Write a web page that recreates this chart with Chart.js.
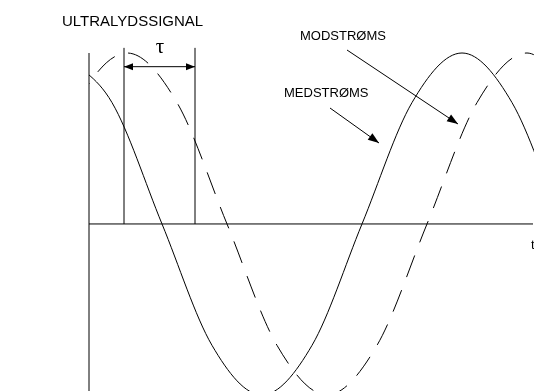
<!DOCTYPE html>
<html>
<head>
<meta charset="utf-8">
<script src="https://cdn.jsdelivr.net/npm/chart.js@4/dist/chart.umd.min.js"></script>
<style>
  html, body { margin: 0; padding: 0; background: #fff; }
  #wrap { width: 534px; height: 391px; }
</style>
</head>
<body>
<div id="wrap"><canvas id="c" width="534" height="391"></canvas></div>
<script>
// time axis (arbitrary units), amplitude normalised to 1
const medTimes = [-2.7, 2.3, 7.3, 12.3, 17.3, 22.3, 27.3, 32.3, 37.3, 42.3, 47.3];
const medValues = [1, 0.71, 0, -0.71, -1, -0.71, 0, 0.71, 1, 0.71, 0];
const modTimes = [-6.2, -1.2, 3.8, 8.8, 13.8, 18.8, 23.8, 28.8, 33.8, 38.8, 43.8, 48.8];
const modValues = [0, 0.71, 1, 0.71, 0, -0.71, -1, -0.71, 0, 0.71, 1, 0.71];
const tauMarks = [3.5, 10.6];   // the two vertical lines bracketing tau
const tauTop = 1.03;
const tauArrowLevel = 0.92;

const pts = (xs, ys) => xs.map((x, i) => ({ x: x, y: ys[i] }));

// ---------------------------------------------------------------------------

function arrowHead(ctx, x1, y1, x2, y2, len, half) {
  const a = Math.atan2(y2 - y1, x2 - x1);
  ctx.beginPath();
  ctx.moveTo(x2, y2);
  ctx.lineTo(x2 - len * Math.cos(a) + half * Math.sin(a), y2 - len * Math.sin(a) - half * Math.cos(a));
  ctx.lineTo(x2 - len * Math.cos(a) - half * Math.sin(a), y2 - len * Math.sin(a) + half * Math.cos(a));
  ctx.closePath();
  ctx.fill();
}

function arrow(ctx, x1, y1, x2, y2) {
  ctx.beginPath();
  ctx.moveTo(x1, y1);
  ctx.lineTo(x2, y2);
  ctx.stroke();
  arrowHead(ctx, x1, y1, x2, y2, 11, 4);
}

const sketch = {
  id: 'sketch',
  afterDraw(chart) {
    const ctx = chart.ctx;
    const xs = chart.scales.x, ys = chart.scales.y;
    const x0 = xs.getPixelForValue(0);
    const y0 = ys.getPixelForValue(0);
    ctx.save();
    ctx.strokeStyle = '#000';
    ctx.fillStyle = '#000';
    ctx.lineWidth = 1;
    ctx.setLineDash([]);

    // axes
    ctx.beginPath();
    ctx.moveTo(x0, 53);
    ctx.lineTo(x0, 391);
    ctx.moveTo(x0, y0);
    ctx.lineTo(533, y0);
    ctx.stroke();

    // tau bracket
    const ta = xs.getPixelForValue(tauMarks[0]);
    const tb = xs.getPixelForValue(tauMarks[1]);
    const tTop = ys.getPixelForValue(tauTop);
    const tY = ys.getPixelForValue(tauArrowLevel);
    ctx.beginPath();
    ctx.moveTo(ta, tTop); ctx.lineTo(ta, y0);
    ctx.moveTo(tb, tTop); ctx.lineTo(tb, y0);
    ctx.moveTo(ta, tY); ctx.lineTo(tb, tY);
    ctx.stroke();
    arrowHead(ctx, tb, tY, ta, tY, 9, 3.5);
    arrowHead(ctx, ta, tY, tb, tY, 9, 3.5);

    // labels
    ctx.textBaseline = 'alphabetic';
    ctx.textAlign = 'left';
    ctx.font = '15px "Liberation Sans", Arial, sans-serif';
    ctx.fillText('ULTRALYDSSIGNAL', 62, 25.5);
    ctx.font = '13px "Liberation Sans", Arial, sans-serif';
    ctx.fillText('MODSTRØMS', 300, 39.5);
    ctx.fillText('MEDSTRØMS', 284, 96.5);
    ctx.fillText('t', 531, 249);
    ctx.textAlign = 'center';
    ctx.font = '21px "Liberation Serif", "Times New Roman", serif';
    ctx.fillText('τ', 160, 53);

    // pointer arrows
    arrow(ctx, 347, 50, 458, 124);
    arrow(ctx, 330, 108, 379, 143);
    ctx.restore();
  }
};

new Chart(document.getElementById('c'), {
  type: 'line',
  data: {
    datasets: [
      {
        label: 'MEDSTRØMS',
        data: pts(medTimes, medValues),
        borderColor: '#000',
        borderWidth: 1,
        pointRadius: 0,
        cubicInterpolationMode: 'monotone',
        fill: false
      },
      {
        label: 'MODSTRØMS',
        data: pts(modTimes, modValues),
        borderColor: '#000',
        borderWidth: 1,
        borderDash: [23, 14],
        pointRadius: 0,
        cubicInterpolationMode: 'monotone',
        fill: false
      }
    ]
  },
  options: {
    responsive: false,
    animation: false,
    layout: { padding: { left: 89, right: 0, top: 0, bottom: 0 } },
    plugins: {
      legend: { display: false },
      tooltip: { enabled: false }
    },
    scales: {
      x: { type: 'linear', min: 0, max: 44.5, display: false },
      y: { min: -0.977, max: 1.31, display: false }
    }
  },
  plugins: [sketch]
});
</script>
</body>
</html>
